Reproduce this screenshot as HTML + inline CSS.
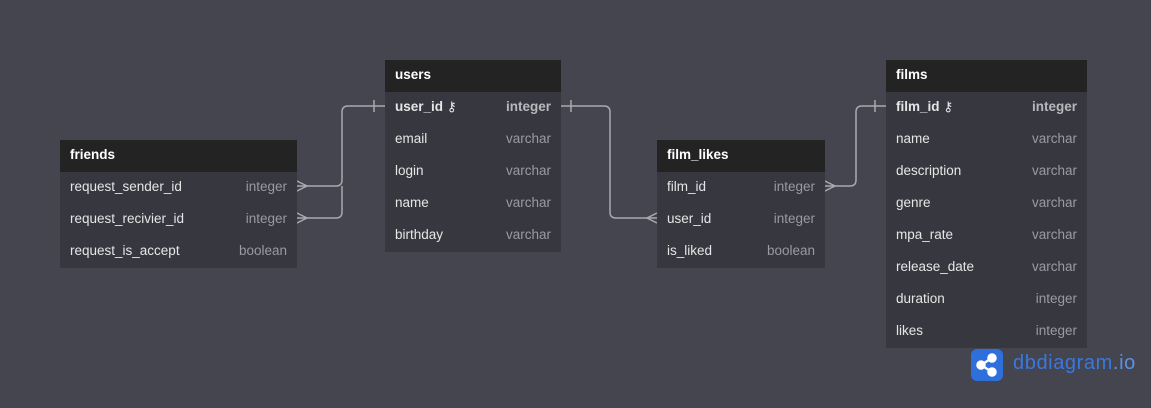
<!DOCTYPE html>
<html><head><style>
body{margin:0;width:1151px;height:408px;background:#45454f;font-family:"Liberation Sans","DejaVu Sans",sans-serif;position:relative;overflow:hidden}
.t{position:absolute;background:#37373f;color:#e6e6e6;font-size:13.5px}
.h{height:32px;background:#232323;color:#fff;font-weight:bold;line-height:29px;padding-left:10px}
.r{height:32px;line-height:30px;padding:0 10px;display:flex;justify-content:space-between}
.r span:last-child{color:#9a9aa0}
.pk{font-weight:bold}.pk span:last-child{color:#b8b8bc}
</style></head><body>
<svg width="1151" height="408" style="position:absolute;left:0;top:0" fill="none" stroke="#a9a9b0" stroke-width="1.5">
<path d="M297 186H336Q342 186 342 180V112Q342 106 348 106H385"/>
<path d="M297 218H336Q342 218 342 212V186"/>
<path d="M297 181L307 186L297 191M297 213L307 218L297 223"/>
<path d="M374 100V112"/>
<path d="M561 106H604Q610 106 610 112V212Q610 218 616 218H657"/>
<path d="M571 100V112M657 213L647 218L657 223"/>
<path d="M825 186H850Q856 186 856 180V112Q856 106 862 106H886"/>
<path d="M825 181L835 186L825 191M875 100V112"/>
</svg>
<div class="t" style="left:60px;top:140px;width:237px">
<div class="h">friends</div>
<div class="r"><span>request_sender_id</span><span>integer</span></div>
<div class="r"><span>request_recivier_id</span><span>integer</span></div>
<div class="r"><span>request_is_accept</span><span>boolean</span></div>
</div>
<div class="t" style="left:385px;top:60px;width:176px">
<div class="h">users</div>
<div class="r pk"><span>user_id ⚷</span><span>integer</span></div>
<div class="r"><span>email</span><span>varchar</span></div>
<div class="r"><span>login</span><span>varchar</span></div>
<div class="r"><span>name</span><span>varchar</span></div>
<div class="r"><span>birthday</span><span>varchar</span></div>
</div>
<div class="t" style="left:657px;top:140px;width:168px">
<div class="h">film_likes</div>
<div class="r"><span>film_id</span><span>integer</span></div>
<div class="r"><span>user_id</span><span>integer</span></div>
<div class="r"><span>is_liked</span><span>boolean</span></div>
</div>
<div class="t" style="left:886px;top:60px;width:201px">
<div class="h">films</div>
<div class="r pk"><span>film_id ⚷</span><span>integer</span></div>
<div class="r"><span>name</span><span>varchar</span></div>
<div class="r"><span>description</span><span>varchar</span></div>
<div class="r"><span>genre</span><span>varchar</span></div>
<div class="r"><span>mpa_rate</span><span>varchar</span></div>
<div class="r"><span>release_date</span><span>varchar</span></div>
<div class="r"><span>duration</span><span>integer</span></div>
<div class="r"><span>likes</span><span>integer</span></div>
</div>
<div style="position:absolute;left:971px;top:349px;width:32px;height:32px;border-radius:6px;background:#2f6fdc">
<svg width="32" height="32" stroke="#fff" stroke-width="2.5" fill="#fff"><path d="M10 16L21 9M10 16L21 23"/><circle cx="10" cy="16" r="3.5"/><circle cx="21" cy="9" r="3.5"/><circle cx="21" cy="23" r="3.5"/></svg>
</div>
<div style="position:absolute;left:1013px;top:352px;font-size:20px;letter-spacing:0.6px;color:#3a78e0">dbdiagram<span style="color:#5a90ea">.io</span></div>
</body></html>
